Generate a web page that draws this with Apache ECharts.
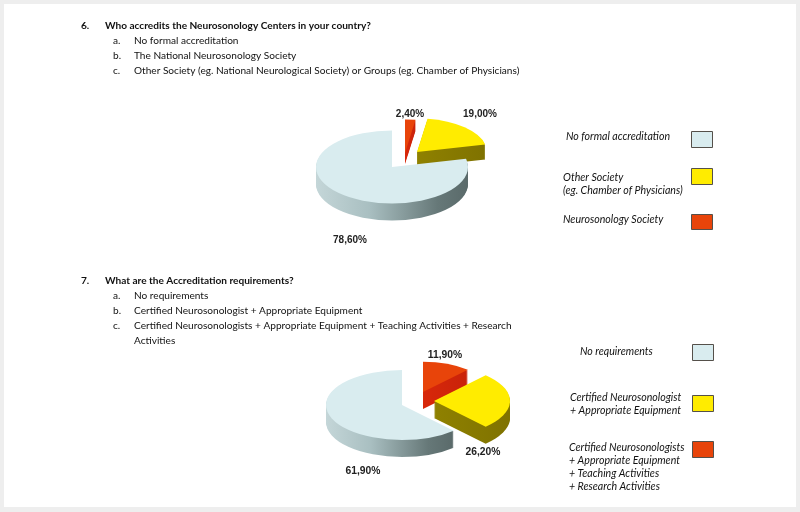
<!DOCTYPE html>
<html>
<head>
<meta charset="utf-8">
<style>
  html, body { margin: 0; padding: 0; background: #eeeeee; }
  #main { width: 800px; height: 512px; }
</style>
<script src="https://cdn.jsdelivr.net/npm/echarts@6/dist/echarts.min.js"></script>
</head>
<body>
<div id="main"></div>
<script>
// chart 1 data
var categories1 = ['No formal accreditation', 'Other Society', 'Neurosonology Society'];
var values1 = [78.6, 19.0, 2.4];
// chart 2 data
var categories2 = ['No requirements', 'Certified Neurosonologist + Appropriate Equipment', 'Certified Neurosonologists + Appropriate Equipment + Teaching Activities + Research Activities'];
var values2 = [61.9, 26.2, 11.9];

var topColors = ['#d9ecef', '#ffec00', '#e8440a'];
var wallColors = [
    [[0, '#c4d6d8'], [0.35, '#a9bfc1'], [0.8, '#667878'], [1, '#5a6a6a']],
    [[0, '#8f8100'], [1, '#7f7200']],
    [[0, '#d8280a'], [1, '#c9220a']]
];

// where each slice sits on the page: centre, radius, wall depth, paint order
var pie1Layout = {
    slices: [
        { x: 392, y: 167, r: 76, depth: 17, order: 3, label: [350, 240] },
        { x: 417, y: 152, r: 70, depth: 15, order: 2, label: [480, 114] },
        { x: 405, y: 153, r: 70, depth: 11, order: 1, label: [410, 114] }
    ],
    squash: 0.48, fontSize: 10
};
var pie2Layout = {
    slices: [
        { x: 402, y: 405, r: 76, depth: 17, order: 2, label: [363, 471] },
        { x: 434, y: 401, r: 76, depth: 17, order: 3, label: [483, 452] },
        { x: 423, y: 392, r: 66, depth: 17, order: 1, label: [445, 355] }
    ],
    squash: 0.46, fontSize: 10.3
};

var textLines = [
    // x, y, text, bold
    [81, 26, '6.', true],
    [105, 26, 'Who accredits the Neurosonology Centers in your country?', true],
    [113, 41, 'a.'], [134, 41, 'No formal accreditation'],
    [113, 56, 'b.'], [134, 56, 'The National Neurosonology Society'],
    [113, 71, 'c.'], [134, 71, 'Other Society (eg. National Neurological Society) or Groups (eg. Chamber of Physicians)'],
    [81, 281, '7.', true],
    [105, 281, 'What are the Accreditation requirements?', true],
    [113, 296, 'a.'], [134, 296, 'No requirements'],
    [113, 311, 'b.'], [134, 311, 'Certified Neurosonologist + Appropriate Equipment'],
    [113, 326, 'c.'], [134, 326, 'Certified Neurosonologists + Appropriate Equipment + Teaching Activities + Research'],
    [134, 341, 'Activities']
];

var legendLines = [
    [566, 136, 'No formal accreditation'],
    [563, 177, 'Other Society'],
    [563, 190, '(eg. Chamber of Physicians)'],
    [563, 219, 'Neurosonology Society'],
    [580, 351, 'No requirements'],
    [570, 397, 'Certified Neurosonologist'],
    [570, 410, '+ Appropriate Equipment'],
    [569, 447, 'Certified Neurosonologists'],
    [569, 460, '+ Appropriate Equipment'],
    [569, 473, '+ Teaching Activities'],
    [569, 486, '+ Research Activities']
];

var legendBoxes = [
    [691, 131, 21, 16, 0], [691, 168, 21, 16, 1], [691, 214, 21, 15, 2],
    [692, 344, 21, 16, 0], [692, 395, 21, 16, 1], [692, 441, 21, 16, 2]
];

function percentText(v) {
    return v.toFixed(2).replace('.', ',') + '%';
}

// turns a slice into a stack of flattened sectors, so it looks extruded
function pieRenderer(values, layout) {
    var total = values.reduce(function (a, b) { return a + b; }, 0);
    return function (params, api) {
        var i = params.dataIndex;
        var before = 0;
        for (var k = 0; k < i; k++) before += values[k];
        // slices run counter clockwise from 12 o'clock
        var a0 = -Math.PI / 2 - before / total * Math.PI * 2;
        var a1 = a0 - api.value(1) / total * Math.PI * 2;
        var s = layout.slices[i];
        var children = [];
        var wallFill = new echarts.graphic.LinearGradient(0, 0, 1, 0, wallColors[i].map(function (c) {
            return { offset: c[0], color: c[1] };
        }));
        for (var d = s.depth; d >= 0; d--) {
            children.push({
                type: 'sector',
                x: s.x,
                y: s.y + d,
                scaleY: layout.squash,
                z2: s.order * 100 + (s.depth - d),
                shape: { cx: 0, cy: 0, r0: 0, r: s.r, startAngle: a0, endAngle: a1, clockwise: false },
                style: { fill: d === 0 ? topColors[i] : wallFill }
            });
        }
        children.push({
            type: 'text',
            x: s.label[0],
            y: s.label[1],
            z2: 1000,
            style: {
                text: percentText(api.value(1)),
                font: 'bold ' + layout.fontSize + 'px "Liberation Sans", Arial, sans-serif',
                fill: '#222',
                align: 'center',
                verticalAlign: 'middle'
            }
        });
        return { type: 'group', children: children };
    };
}

function pieSeries(categories, values, layout) {
    return {
        type: 'custom',
        coordinateSystem: 'none',
        silent: true,
        animation: false,
        data: categories.map(function (c, i) { return { name: c, value: [i, values[i]] }; }),
        renderItem: pieRenderer(values, layout)
    };
}

var graphics = [{
    type: 'rect',
    silent: true,
    z: -10,
    shape: { x: 4, y: 4, width: 792, height: 503 },
    style: { fill: '#ffffff' }
}];
textLines.forEach(function (t) {
    graphics.push({
        type: 'text', x: t[0], y: t[1], silent: true,
        style: {
            text: t[2],
            font: (t[3] ? 'bold ' : '') + '10.1px Lato, "Noto Sans", sans-serif',
            fill: '#111111',
            verticalAlign: 'middle'
        }
    });
});
legendLines.forEach(function (t) {
    graphics.push({
        type: 'text', x: t[0], y: t[1] + 0.5, silent: true,
        style: {
            text: t[2],
            font: 'italic 10.6px Lato, "Noto Sans", sans-serif',
            fill: '#111111',
            verticalAlign: 'middle'
        }
    });
});
legendBoxes.forEach(function (b) {
    graphics.push({
        type: 'rect', silent: true,
        shape: { x: b[0] + 0.5, y: b[1] + 0.5, width: b[2], height: b[3] },
        style: { fill: topColors[b[4]], stroke: '#55504a', lineWidth: 1 }
    });
});

var chart = echarts.init(document.getElementById('main'), null, { renderer: 'canvas' });
chart.setOption({
    backgroundColor: '#eeeeee',
    animation: false,
    graphic: graphics,
    series: [
        pieSeries(categories1, values1, pie1Layout),
        pieSeries(categories2, values2, pie2Layout)
    ]
});
</script>
</body>
</html>
